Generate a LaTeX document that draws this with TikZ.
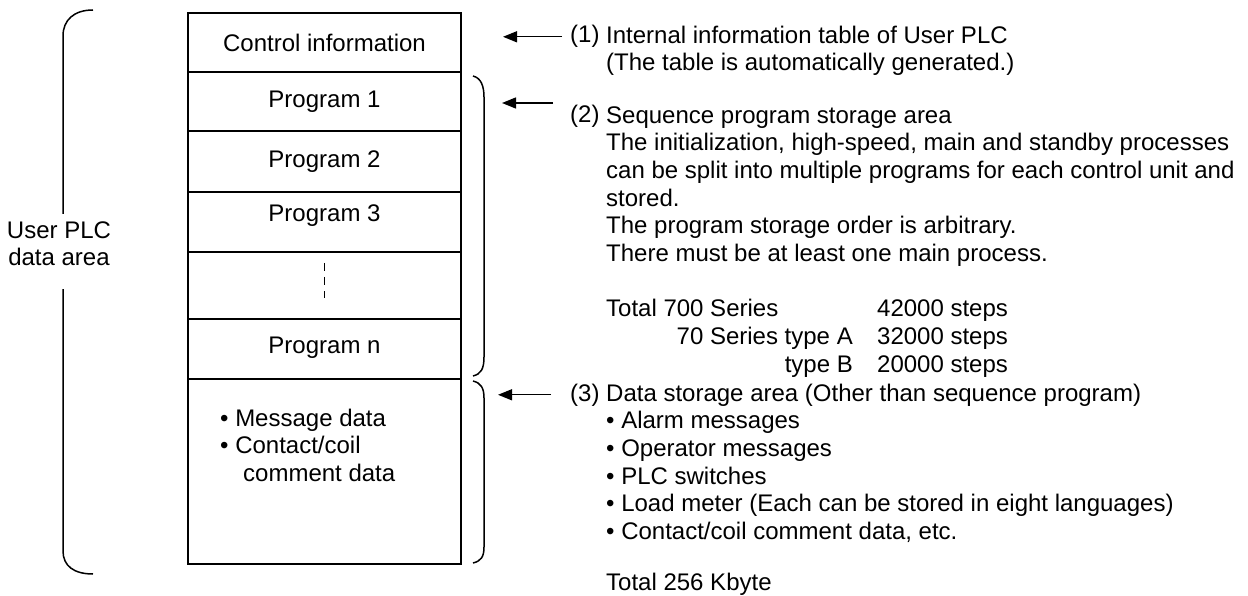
\documentclass[tikz,border=0pt]{standalone}
\usepackage{fontspec}
\setmainfont{Liberation Sans}
\usetikzlibrary{positioning,arrows.meta}
\tikzset{
  >={Triangle[length=14pt,width=11pt]},
  txt/.style={font=\fontsize{24}{27.6}\selectfont,inner sep=0pt},
  cell/.style={txt,draw,line width=1.6pt,minimum width=273pt,outer sep=0pt},
  ptr/.style={->,line width=1.4pt},
  brc/.style={line width=1.5pt},
  gapdash/.style={line width=1pt,dash pattern=on 8pt off 6pt},
}

\begin{document}
\begin{tikzpicture}[x=1pt,y=-1pt]
  \useasboundingbox (0,0) rectangle (1248,596);
  % memory map
  \node[cell,minimum height=59pt] (ctrl) at (324.5,42.5) {Control information};
  \node[cell,minimum height=59pt,below=0pt of ctrl] (p1) {Program 1};
  \node[cell,minimum height=61pt,below=0pt of p1] (p2) {Program 2};
  \node[cell,minimum height=60pt,below=0pt of p2] (p3) {\raisebox{18pt}{Program 3}};
  \node[cell,minimum height=67pt,below=0pt of p3] (dots) {};
  \node[cell,minimum height=60pt,below=0pt of dots] (pn) {\raisebox{8pt}{Program n}};
  \node[cell,minimum height=185pt,below=0pt of pn] (data) {};
  \draw[gapdash] ([yshift=-11pt]dots.north) -- ([yshift=-46pt]dots.north);
  \node[txt,align=left,anchor=north west] (msg) at (220,406.7)
    {\strut\textbullet\ Message data\\\textbullet\ Contact/coil\\\hspace*{23pt}comment data};
  % braces
  \draw[brc] (93,10) .. controls (74,10) and (63,20) .. (63,36) -- (63,214);
  \draw[brc] (63,289) -- (63,551) .. controls (63,566) and (74,574) .. (93,574);
  \node[txt,align=center,anchor=north] (plc) at (59,218.7) {\strut User PLC\\data area};
  \draw[brc] (473,76) .. controls (481,78) and (484,86) .. (484,97) -- (484,357)
    .. controls (484,369) and (481,374) .. (473,376);
  \draw[brc] (473,381) .. controls (481,383) and (484,388) .. (484,398) -- (484,547)
    .. controls (484,557) and (481,561) .. (473,563);
  % notes
  \node[txt,anchor=base west] (lab1) at (570,43) {(1)};
  \node[txt,align=left,anchor=north west] (info) at (606,23.7)
    {\strut Internal information table of User PLC\\(The table is automatically generated.)};
  \node[txt,anchor=base west] (lab2) at (570,123) {(2)};
  \node[txt,align=left,anchor=north west] (seq) at (606,103.7)
    {\strut Sequence program storage area\\
     The initialization, high-speed, main and standby processes\\
     can be split into multiple programs for each control unit and\\
     stored.\\
     The program storage order is arbitrary.\\
     There must be at least one main process.\\[28pt]
     Total 700 Series};
  \node[txt,align=right,anchor=north east] (series) at (853,324.9)
    {\strut 70 Series type A\\type B};
  \node[txt,align=left,anchor=north west] (steps) at (877,297.3)
    {\strut 42000 steps\\32000 steps\\20000 steps};
  \node[txt,anchor=base west] (lab3) at (570,401) {(3)};
  \node[txt,align=left,anchor=north west] (store) at (606,381.7)
    {\strut Data storage area (Other than sequence program)\\
     \textbullet\ Alarm messages\\
     \textbullet\ Operator messages\\
     \textbullet\ PLC switches\\
     \textbullet\ Load meter (Each can be stored in eight languages)\\
     \textbullet\ Contact/coil comment data, etc.\\[24pt]
     Total 256 Kbyte};
  % pointers
  \coordinate (t1) at (503,38);
  \coordinate (s2) at (553,103);
  \coordinate (t2) at (502,103);
  \coordinate (t3) at (498,394);
  \draw[ptr] ([xshift=-8pt]lab1.west) -- (lab1.west -| t1);
  \draw[ptr] (s2) -- (t2);
  \draw[ptr] ([xshift=-19pt]lab3.west) -- (lab3.west -| t3);
\end{tikzpicture}
\end{document}
